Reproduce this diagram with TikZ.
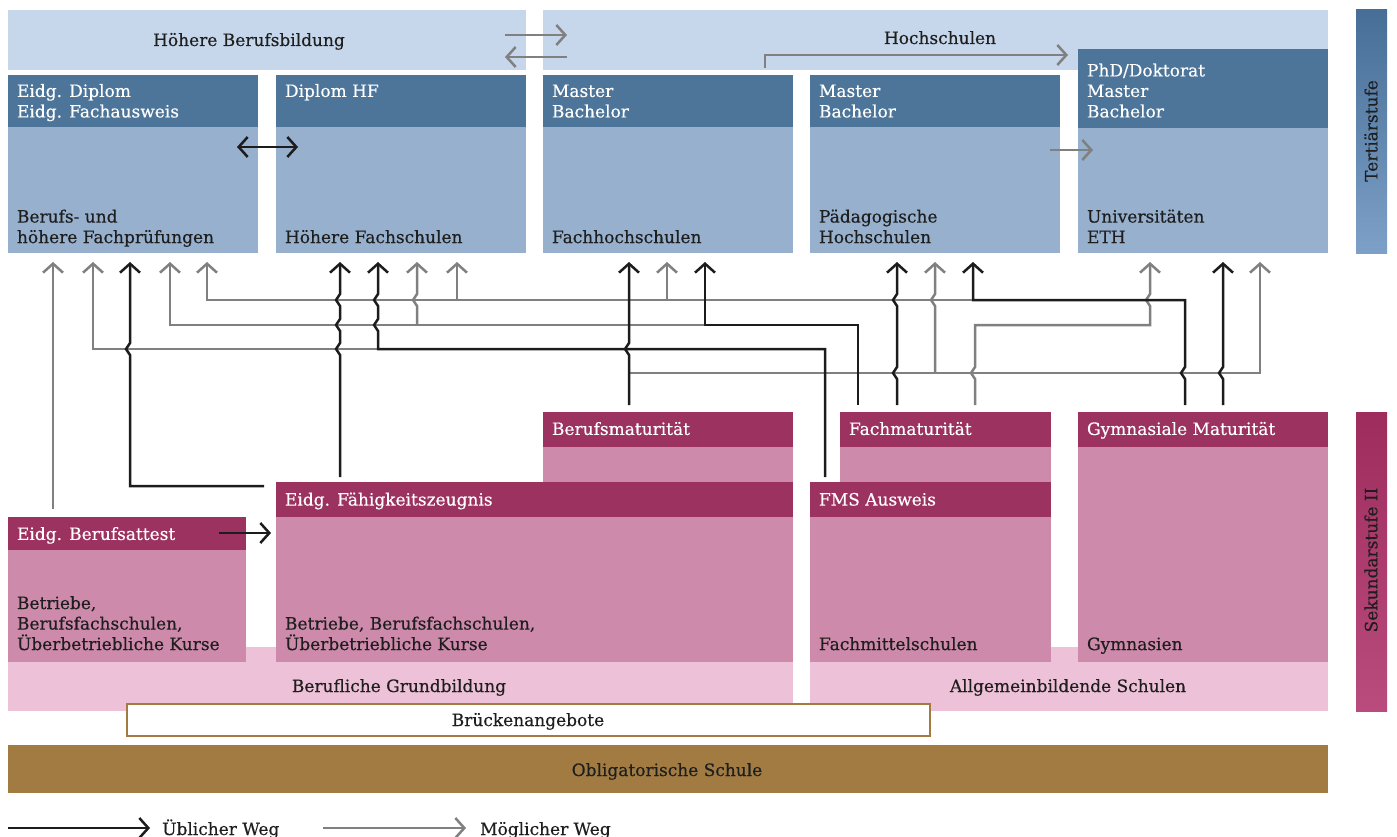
\documentclass[tikz,border=0pt]{standalone}
\usepackage{fontspec}
\setmainfont{DejaVu Serif}[FakeBold=0.35]
\usetikzlibrary{arrows.meta}
\definecolor{tband}{RGB}{198,215,235}
\definecolor{thead}{RGB}{76,117,153}
\definecolor{tbody}{RGB}{150,176,206}
\definecolor{tbarA}{RGB}{70,110,150}
\definecolor{tbarB}{RGB}{125,160,200}
\definecolor{shead}{RGB}{156,50,96}
\definecolor{sbody}{RGB}{205,138,171}
\definecolor{sband}{RGB}{237,193,215}
\definecolor{sbarA}{RGB}{158,45,93}
\definecolor{sbarB}{RGB}{185,75,125}
\definecolor{brown}{RGB}{161,123,66}
\definecolor{lblack}{RGB}{28,28,28}
\definecolor{lgray}{RGB}{128,128,128}
\definecolor{dtext}{RGB}{30,30,30}
\newcommand\fs{\fontsize{17}{20.5}\selectfont}
\newcommand\hopv[2]{-- (#1,#2+6) -- (#1-4,#2) -- (#1,#2-6)}
\begin{document}
\begin{tikzpicture}[x=1pt,y=-1pt,
  box/.style={inner sep=0pt, outer sep=0pt, anchor=north west, draw=none},
  lbl/.style={inner sep=0pt, outer sep=0pt, font=\fs, align=left},
  toptxt/.style={lbl, anchor=north west},
  bottxt/.style={lbl, anchor=south west},
  cent/.style={inner sep=0pt, outer sep=0pt, font=\fs, anchor=base, text=dtext},
  usual/.style={draw=lblack, line width=2.5pt, line join=miter, -{Straight Barb[length=9pt,width=20pt]}},
  possible/.style={usual, draw=lgray}]
\useasboundingbox (0,0) rectangle (1397,837);

% ---------- tertiary ----------
\node[box, fill=tband, minimum width=518pt, minimum height=60pt] (bandL) at (8,10) {};
\node[box, fill=tband, minimum width=785pt, minimum height=60pt] (bandR) at (543,10) {};
\node[cent] (tHB) at (249,46) {Höhere Berufsbildung};
\node[cent] (tHS) at (940,44) {Hochschulen};

\node[box, fill=tbody, minimum width=250pt, minimum height=178pt] (bA) at (8,75) {};
\node[box, fill=thead, minimum width=250pt, minimum height=52pt] (hA) at (8,75) {};
\node[box, fill=tbody, minimum width=250pt, minimum height=178pt] (bB) at (276,75) {};
\node[box, fill=thead, minimum width=250pt, minimum height=52pt] (hB) at (276,75) {};
\node[box, fill=tbody, minimum width=250pt, minimum height=178pt] (bC) at (543,75) {};
\node[box, fill=thead, minimum width=250pt, minimum height=52pt] (hC) at (543,75) {};
\node[box, fill=tbody, minimum width=250pt, minimum height=178pt] (bD) at (810,75) {};
\node[box, fill=thead, minimum width=250pt, minimum height=52pt] (hD) at (810,75) {};
\node[box, fill=tbody, minimum width=250pt, minimum height=204pt] (bE) at (1078,49) {};
\node[box, fill=thead, minimum width=250pt, minimum height=79pt] (hE) at (1078,49) {};
\node[box, top color=tbarA, bottom color=tbarB, minimum width=31pt, minimum height=243pt] (tbar) at (1356,10) {};
\node[inner sep=0pt, font=\fs, rotate=90, text=dtext] (tTS) at (1371,131) {Tertiärstufe};

\node[toptxt, text=white] (xA1) at (17,82.6) {\strut Eidg. Diplom\\Eidg. Fachausweis};
\node[toptxt, text=white] (xB1) at (285,82.6) {\strut Diplom HF};
\node[toptxt, text=white] (xC1) at (552,82.6) {\strut Master\\Bachelor};
\node[toptxt, text=white] (xD1) at (819,82.6) {\strut Master\\Bachelor};
\node[toptxt, text=white] (xE1) at (1087,62.1) {\strut PhD/Doktorat\\Master\\Bachelor};
\node[bottxt, text=dtext] (xA2) at (17,249.2) {Berufs- und\\höhere Fachprüfungen\strut};
\node[bottxt, text=dtext] (xB2) at (285,249.2) {Höhere Fachschulen\strut};
\node[bottxt, text=dtext] (xC2) at (552,249.2) {Fachhochschulen\strut};
\node[bottxt, text=dtext] (xD2) at (819,249.2) {Pädagogische\\Hochschulen\strut};
\node[bottxt, text=dtext] (xE2) at (1087,249.2) {Universitäten\\ETH\strut};

% ---------- secondary ----------
\node[box, fill=sband, minimum width=785pt, minimum height=64pt] (bandG) at (8,647) {};
\node[box, fill=sband, minimum width=518pt, minimum height=64pt] (bandS) at (810,647) {};
\node[box, fill=sbody, minimum width=250pt, minimum height=70pt] (bBM) at (543,412) {};
\node[box, fill=shead, minimum width=250pt, minimum height=35pt] (hBM) at (543,412) {};
\node[box, fill=sbody, minimum width=211pt, minimum height=70pt] (bFM) at (840,412) {};
\node[box, fill=shead, minimum width=211pt, minimum height=35pt] (hFM) at (840,412) {};
\node[box, fill=sbody, minimum width=250pt, minimum height=250pt] (bGM) at (1078,412) {};
\node[box, fill=shead, minimum width=250pt, minimum height=35pt] (hGM) at (1078,412) {};
\node[box, fill=sbody, minimum width=517pt, minimum height=180pt] (bEFZ) at (276,482) {};
\node[box, fill=shead, minimum width=517pt, minimum height=35pt] (hEFZ) at (276,482) {};
\node[box, fill=sbody, minimum width=241pt, minimum height=180pt] (bFMS) at (810,482) {};
\node[box, fill=shead, minimum width=241pt, minimum height=35pt] (hFMS) at (810,482) {};
\node[box, fill=sbody, minimum width=238pt, minimum height=145pt] (bBA) at (8,517) {};
\node[box, fill=shead, minimum width=238pt, minimum height=33pt] (hBA) at (8,517) {};
\node[box, top color=sbarA, bottom color=sbarB, minimum width=31pt, minimum height=299pt] (sbar) at (1356,412) {};
\node[inner sep=0pt, font=\fs, rotate=90, text=dtext] (tSS) at (1371,560) {Sekundarstufe II};

\node[toptxt, text=white] (yBM) at (552,420.6) {\strut Berufsmaturität};
\node[toptxt, text=white] (yFM) at (849,420.6) {\strut Fachmaturität};
\node[toptxt, text=white] (yGM) at (1087,420.6) {\strut Gymnasiale Maturität};
\node[toptxt, text=white] (yEFZ) at (285,491.2) {\strut Eidg. Fähigkeitszeugnis};
\node[toptxt, text=white] (yFMS) at (819,491.2) {\strut FMS Ausweis};
\node[toptxt, text=white] (yBA) at (17,525.6) {\strut Eidg. Berufsattest};
\node[bottxt, text=dtext] (zBA) at (17,656.2) {Betriebe,\\Berufsfachschulen,\\Überbetriebliche Kurse\strut};
\node[bottxt, text=dtext] (zEFZ) at (285,656.2) {Betriebe, Berufsfachschulen,\\Überbetriebliche Kurse\strut};
\node[bottxt, text=dtext] (zFMS) at (819,656.2) {Fachmittelschulen\strut};
\node[bottxt, text=dtext] (zGM) at (1087,656.2) {Gymnasien\strut};
\node[cent] (tBG) at (399,692) {Berufliche Grundbildung};
\node[cent] (tAS) at (1068,692) {Allgemeinbildende Schulen};

\node[box, fill=white, draw=brown, line width=1.5pt, minimum width=803pt, minimum height=32pt] (bru) at (127,704) {};
\node[cent] (tBR) at (528,726) {Brückenangebote};
\node[box, fill=brown, minimum width=1320pt, minimum height=48pt] (obl) at (8,745) {};
\node[cent] (tOS) at (667,776) {Obligatorische Schule};

% ---------- possible paths (gray) ----------
\draw[possible] (53,509) -- (53,262);
\draw[possible] (378,349) -- (93,349) -- (93,262);
\draw[possible] (705,325) -- (170,325) -- (170,262);
\draw[possible] (417,325) \hopv{417}{300} -- (417,262);
\draw[possible] (973,300) -- (207,300) -- (207,262);
\draw[possible] (457,300) -- (457,262);
\draw[possible] (667,300) -- (667,262);
\draw[possible] (629,373) -- (1260,373) -- (1260,262);
\draw[possible] (935,373) \hopv{935}{300} -- (935,262);
\draw[possible] (975,405) \hopv{975}{373} -- (975,325) -- (1150,325) \hopv{1150}{300} -- (1150,262);
\draw[possible] (505,35) -- (567,35);
\draw[possible] (567,57) -- (505,57);
\draw[possible] (765,68) -- (765,55) -- (1068,55);
\draw[possible] (1050,150) -- (1093,150);

% ---------- usual paths (black) ----------
\draw[usual] (264,486) -- (130,486) \hopv{130}{349} -- (130,262);
\draw[usual] (340,477) \hopv{340}{349} \hopv{340}{325} \hopv{340}{300} -- (340,262);
\draw[usual] (825,477) -- (825,349) -- (378,349) \hopv{378}{325} \hopv{378}{300} -- (378,262);
\draw[usual] (629,405) \hopv{629}{349} -- (629,262);
\draw[usual] (858,405) -- (858,325) -- (705,325) -- (705,262);
\draw[usual] (897,405) \hopv{897}{373} \hopv{897}{300} -- (897,262);
\draw[usual] (1185,405) \hopv{1185}{373} -- (1185,300) -- (973,300) -- (973,262);
\draw[usual] (1223,405) \hopv{1223}{373} -- (1223,262);
\draw[usual, {Straight Barb[length=9pt,width=20pt]}-{Straight Barb[length=9pt,width=20pt]}] (237,147) -- (298,147);
\draw[usual] (219,533) -- (271,533);

% ---------- legend ----------
\draw[usual] (8,828) -- (150,828);
\node[inner sep=0pt, font=\fs, anchor=base west, text=dtext] (lgU) at (162,835) {Üblicher Weg};
\draw[possible] (323,828) -- (466,828);
\node[inner sep=0pt, font=\fs, anchor=base west, text=dtext] (lgM) at (480,835) {Möglicher Weg};
\end{tikzpicture}
\end{document}
